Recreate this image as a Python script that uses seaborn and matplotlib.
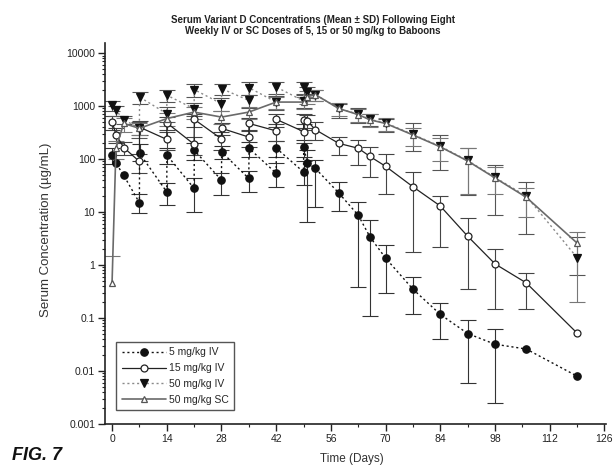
import numpy as np
import pandas as pd
import matplotlib
matplotlib.use("Agg")
import matplotlib.pyplot as plt
import seaborn as sns
from matplotlib.ticker import FixedLocator, FixedFormatter, LogLocator, NullFormatter

sns.set_theme(style="ticks")
plt.rcParams["font.family"] = ["Liberation Sans", "DejaVu Sans"]

nan = np.nan

# ---------------- data ----------------
# 5 mg/kg IV
days_5iv = [0.05, 1, 3, 7, 7.05, 14, 14.05, 21, 21.05, 28, 28.05, 35, 35.05, 42, 42.05,
            49, 49.05, 50, 52, 58, 63, 66, 70, 77, 84, 91, 98, 106, 119]
conc_5iv = [117, 84, 49, 15, 128, 24, 118, 28, 146, 40, 136, 43, 160, 54, 160,
            57, 168, 84, 67, 23, 8.7, 3.4, 1.35, 0.35, 0.117, 0.051, 0.032, 0.026, 0.008]
lo_5iv = [80, nan, nan, 9.7, 90, 13.5, 80, 10, 95, 21, 100, 24, 110, 30, 110,
          33, 110, 6.5, 12.5, 10.3, 0.38, 0.11, 0.30, 0.12, 0.04, 0.0059, 0.0025, nan, nan]
hi_5iv = [160, nan, nan, 22, 190, 35, 160, 43, 200, 54, 180, 60, 210, 86, 220,
          90, 230, 150, 95, 37, 15.2, 7.0, 2.4, 0.59, 0.19, 0.093, 0.061, nan, nan]

# 15 mg/kg IV
days_15iv = [0.05, 1, 3, 7, 7.05, 14, 14.05, 21, 21.05, 28, 28.05, 35, 35.05, 42, 42.05,
             49, 49.05, 50, 52, 58, 63, 66, 70, 77, 84, 91, 98, 106, 119]
conc_15iv = [500, 290, 165, 90, 400, 235, 480, 190, 560, 240, 380, 260, 470, 340, 560,
             330, 540, 520, 360, 198, 160, 112, 73, 30, 13, 3.5, 1.05, 0.46, 0.052]
lo_15iv = [350, 200, 120, 55, 280, 150, 350, 120, 400, 150, 280, 170, 340, 220, 400,
           200, 380, 350, 230, 118, 76, 46, 22, 1.76, 2.2, 0.35, 0.146, 0.146, nan]
hi_15iv = [650, 380, 210, 125, 520, 320, 610, 260, 720, 330, 480, 350, 600, 460, 720,
           460, 700, 690, 490, 261, 225, 168, 126, 57, 19.8, 7.8, 2.05, 0.70, nan]

# 50 mg/kg IV
days_50iv = [0.05, 1, 3, 7, 7.05, 14, 14.05, 21, 21.05, 28, 28.05, 35, 35.05, 42, 42.05,
             49, 49.05, 50, 52, 58, 63, 66, 70, 77, 84, 91, 98, 106, 119]
conc_50iv = [1030, 830, 555, 380, 1480, 720, 1600, 890, 2040, 1110, 2130, 1280, 2220, 1190, 2280,
             1250, 2250, 1850, 1650, 905, 700, 560, 480, 292, 174, 94, 45, 20, 1.38]
lo_50iv = [800, 650, 450, 250, 1100, 500, 1200, 650, 1500, 800, 1600, 900, 1600, 850, 1700,
           900, 1700, 1400, 1250, 600, 480, 420, 330, 145, 63, 21, 8.7, 3.9, 0.64]
hi_50iv = [1250, 1000, 660, 500, 1850, 940, 2000, 1130, 2600, 1400, 2650, 1650, 2850, 1550, 2900,
           1600, 2800, 2300, 2050, 1100, 900, 700, 580, 470, 280, 165, 76, 37, 3.4]

# 50 mg/kg SC
days_50sc = [0, 1, 3, 7, 14, 21, 28, 35, 42, 49, 50, 52, 58, 63, 66, 70, 77, 84, 91, 98, 106, 119]
conc_50sc = [0.45, 160, 470, 380, 580, 770, 620, 770, 1190, 1190, 1500, 1650, 900, 690, 550,
             470, 285, 170, 92, 44, 19, 2.6]
lo_50sc = [nan, 100, 330, 280, 420, 560, 450, 560, 870, 870, 1100, 1250, 650, 500, 400,
           340, 180, 90, 22, 22, 8, 0.2]
hi_50sc = [1.45, 220, 600, 480, 740, 980, 790, 980, 1500, 1500, 1900, 2050, 1150, 880, 700,
           600, 390, 250, 160, 70, 28, 4.2]

series_labels = ["5 mg/kg IV", "15 mg/kg IV", "50 mg/kg IV", "50 mg/kg SC"]
x_ticks = [0, 14, 28, 42, 56, 70, 84, 98, 112, 126]
y_ticks = [0.001, 0.01, 0.1, 1, 10, 100, 1000, 10000]
y_tick_labels = ["0.001", "0.01", "0.1", "1", "10", "100", "1000", "10000"]

title = ("Serum Variant D Concentrations (Mean \u00b1 SD) Following Eight\n"
         "Weekly IV or SC Doses of 5, 15 or 50 mg/kg to Baboons")

# ---------------- figure ----------------
fig = plt.figure(figsize=(6.15, 4.66), dpi=100)
ax = fig.add_axes([105 / 615, 1 - 424 / 466, (606 - 105) / 615, (424 - 43) / 466])

styles = [
    dict(days=days_5iv, conc=conc_5iv, lo=lo_5iv, hi=hi_5iv, color="#111111", ls=(0, (1.5, 2)),
         marker="o", mfc="#111111", mec="#111111", ms=5.3, ecol="#333333", lw=1.0),
    dict(days=days_15iv, conc=conc_15iv, lo=lo_15iv, hi=hi_15iv, color="#222222", ls="-",
         marker="o", mfc="white", mec="#222222", ms=5.0, ecol="#444444", lw=0.9),
    dict(days=days_50iv, conc=conc_50iv, lo=lo_50iv, hi=hi_50iv, color="#8a8a8a", ls=(0, (1.5, 2)),
         marker="v", mfc="#111111", mec="#111111", ms=5.2, ecol="#555555", lw=1.0),
    dict(days=days_50sc, conc=conc_50sc, lo=lo_50sc, hi=hi_50sc, color="#6a6a6a", ls="-",
         marker="^", mfc="white", mec="#555555", ms=5.0, ecol="#777777", lw=1.2),
]

handles = []
for lab, st in zip(series_labels, styles):
    d = np.asarray(st["days"], float)
    c = np.asarray(st["conc"], float)
    lo = np.asarray(st["lo"], float)
    hi = np.asarray(st["hi"], float)
    ax.errorbar(d, c, yerr=[c - lo, hi - c], fmt="none", ecolor=st["ecol"],
                elinewidth=0.8, capsize=6, capthick=0.8, zorder=2)
    df = pd.DataFrame({"day": d, "conc": c})
    sns.lineplot(data=df, x="day", y="conc", ax=ax, estimator=None, sort=False,
                 color=st["color"], linestyle=st["ls"], linewidth=st["lw"],
                 marker=st["marker"], markersize=st["ms"], markerfacecolor=st["mfc"],
                 markeredgecolor=st["mec"], markeredgewidth=0.9, zorder=3, legend=False)
    line = ax.lines[-1]
    line.set_label(lab)
    handles.append(line)

ax.set_yscale("log")
ax.set_ylim(0.001, 15500)
ax.set_xlim(-1.8, 126.4)

ax.yaxis.set_major_locator(FixedLocator(y_ticks))
ax.yaxis.set_major_formatter(FixedFormatter(y_tick_labels))
ax.yaxis.set_minor_locator(LogLocator(base=10, subs=np.arange(2, 10)))
ax.yaxis.set_minor_formatter(NullFormatter())
ax.xaxis.set_major_locator(FixedLocator(x_ticks))
ax.xaxis.set_major_formatter(FixedFormatter([str(v) for v in x_ticks]))
ax.xaxis.set_minor_locator(FixedLocator(np.arange(7, 127, 14)))

ax.tick_params(axis="both", which="major", direction="out", length=5, width=1.0,
               labelsize=7.5, colors="#222222", pad=2)
ax.tick_params(axis="both", which="minor", direction="out", length=2.5, width=0.8, colors="#222222")
ax.set_xlabel("")
ax.set_ylabel("")
for s in ["top", "right"]:
    ax.spines[s].set_visible(False)
for s in ["left", "bottom"]:
    ax.spines[s].set_linewidth(1.2)
    ax.spines[s].set_color("#222222")

leg = ax.legend(handles=handles, loc="lower left", bbox_to_anchor=(0.012, 0.022),
                fontsize=7.5, handlelength=4.2, labelspacing=0.55, borderpad=0.55,
                handletextpad=0.3, fancybox=False, framealpha=1, edgecolor="#555555")
leg.get_frame().set_linewidth(1.0)

fig.text(313 / 615, 1 - 25.5 / 466, title, ha="center", va="center", fontsize=7,
         fontweight="bold", linespacing=1.1, color="#222222")
fig.text(46 / 615, 1 - 230 / 466, "Serum Concentration (\u00b5g/mL)", rotation=90,
         ha="center", va="center", fontsize=9.5, color="#333333")
fig.text(352 / 615, 1 - 459 / 466, "Time (Days)", ha="center", va="center", fontsize=8.5,
         color="#333333")
fig.text(12 / 615, 1 - 455 / 466, "FIG. 7", ha="left", va="center", fontsize=13,
         fontweight="bold", fontstyle="italic", color="#111111")

fig.savefig("out.png", dpi=100)
